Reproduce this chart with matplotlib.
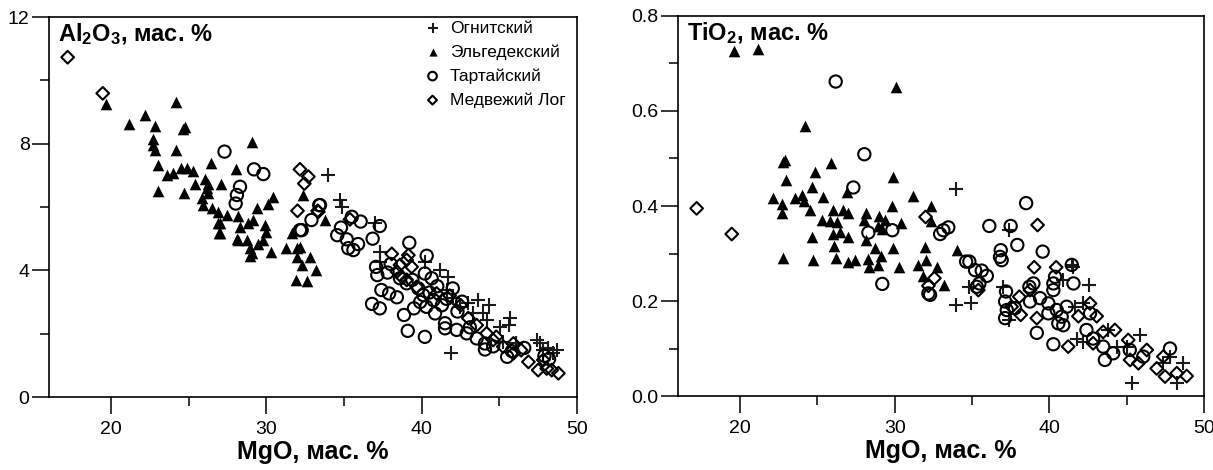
import matplotlib
matplotlib.use("Agg")
import matplotlib.pyplot as plt
from matplotlib.ticker import MultipleLocator, FormatStrFormatter

plt.rcParams['font.family'] = ['Liberation Sans', 'DejaVu Sans']
plt.rcParams['mathtext.fontset'] = 'custom'
plt.rcParams['mathtext.rm'] = 'Liberation Sans'
plt.rcParams['mathtext.bf'] = 'Liberation Sans:bold'

labels = ["Огнитский", "Эльгедекский", "Тартайский", "Медвежий Лог"]

# ---- Al2O3 vs MgO ----
ogn_mgo_al = [33.98, 34.74, 34.85, 37.0, 37.3, 37.3, 40.2, 41.2, 41.7, 41.6, 42.0, 42.46,
              43.0, 43.6, 44.3, 43.3, 43.97, 41.9, 45.7, 45.6, 45.05, 47.4, 47.6, 48.16,
              48.7, 48.47, 47.8, 46.1, 45.25, 44.2]
ogn_al = [7.01, 6.22, 6.01, 5.48, 4.59, 4.27, 4.27, 4.01, 3.8, 3.38, 3.12, 2.85,
          2.96, 3.06, 2.9, 2.64, 2.64, 1.4, 2.49, 2.27, 2.22, 1.8, 1.69, 1.54,
          1.5, 1.38, 1.48, 1.69, 1.75, 2.43]

elg_mgo_al = [19.65, 21.15, 22.2, 22.8, 24.2, 24.76, 24.6, 22.7, 22.7, 22.8, 24.15, 23.0,
              23.6, 24.0, 24.5, 24.87, 25.3, 26.43, 28.04, 29.05, 23.0, 24.7, 25.4, 26.05,
              26.26, 26.15, 26.26, 25.83, 25.94, 26.5, 27.1, 26.9, 27.44, 28.19, 26.9, 26.95,
              28.3, 28.8, 29.15, 29.37, 30.1, 30.45, 29.9, 29.95, 28.09, 28.73, 28.94, 28.94,
              29.48, 29.8, 30.3, 31.24, 31.63, 32.0, 32.0, 32.38, 32.27, 32.8, 33.17, 31.88,
              32.6, 27.0, 27.0, 28.15, 29.07, 33.8, 32.16]
elg_al = [9.25, 8.62, 8.9, 8.56, 9.32, 8.52, 8.45, 8.14, 7.95, 7.8, 7.8, 7.33,
          7.0, 7.08, 7.22, 7.22, 7.15, 7.38, 7.19, 8.06, 6.51, 6.43, 6.74, 6.9,
          6.74, 6.59, 6.43, 6.27, 6.06, 5.96, 6.74, 5.85, 5.75, 5.72, 5.5, 5.19,
          5.38, 5.5, 5.59, 5.96, 6.11, 6.32, 5.43, 5.22, 4.98, 4.96, 4.7, 4.45,
          4.83, 4.96, 4.59, 4.72, 5.19, 4.7, 4.43, 6.38, 4.17, 4.43, 4.01, 3.71,
          3.67, 5.48, 5.19, 4.96, 4.55, 5.59, 4.75]

tar_mgo_al = [27.3, 29.2, 29.8, 28.3, 28.1, 28.02, 32.16, 32.9, 33.4, 33.45, 32.27, 35.5,
              36.07, 37.3, 34.8, 34.56, 35.17, 35.27, 35.6, 35.9, 36.84, 39.2, 40.32, 37.06,
              37.14, 37.8, 37.4, 37.9, 38.4, 36.8, 37.3, 38.86, 39.5, 39.1, 40.2, 38.6,
              39.03, 39.78, 40.2, 40.64, 40.1, 40.3, 40.86, 41.3, 42.0, 41.5, 41.5, 42.25,
              42.9, 43.54, 44.07, 44.07, 45.5, 42.6, 40.75, 41.0, 40.5, 39.9, 41.6, 42.3,
              43.1, 44.6, 45.8, 46.6, 47.9, 48.2, 38.0, 39.4]
tar_al = [7.75, 7.19, 7.04, 6.64, 6.38, 6.11, 5.27, 5.59, 6.06, 6.06, 5.27, 5.69,
          5.54, 5.4, 5.35, 5.11, 4.98, 4.7, 4.64, 4.83, 5.0, 4.87, 4.46, 4.11,
          3.85, 3.93, 3.38, 3.27, 3.15, 2.94, 2.8, 2.59, 2.8, 2.09, 1.9, 3.75,
          3.59, 3.43, 3.9, 3.75, 3.22, 2.85, 2.64, 2.9, 3.43, 2.33, 2.17, 2.12,
          2.01, 1.85, 1.69, 1.5, 1.27, 3.01, 3.06, 3.5, 3.3, 3.0, 3.1, 2.7,
          2.2, 1.6, 1.45, 1.55, 1.3, 1.2, 4.2, 3.7]

med_mgo_al = [17.2, 19.46, 32.16, 32.7, 32.44, 32.0, 33.3, 33.34, 35.38, 38.07, 39.14, 39.03,
              39.35, 38.6, 38.4, 38.7, 39.03, 39.67, 40.96, 43.0, 43.54, 44.18, 44.8, 45.9,
              46.4, 46.87, 47.5, 48.05, 48.37, 48.8, 47.83, 45.9, 45.25, 44.6, 41.8, 42.5]
med_al = [10.73, 9.59, 7.19, 6.96, 6.74, 5.88, 5.88, 5.85, 5.61, 4.52, 4.48, 4.33,
          4.11, 4.17, 3.96, 3.8, 3.7, 3.48, 3.27, 2.49, 2.27, 2.01, 1.9, 1.69,
          1.48, 1.11, 0.85, 0.9, 0.85, 0.75, 1.17, 1.38, 1.59, 1.8, 3.2, 2.9]

# ---- TiO2 vs MgO ----
ogn_mgo_ti = [33.97, 34.83, 33.97, 34.92, 37.42, 36.99, 37.42, 41.51, 42.59, 42.16, 40.91, 41.67,
              41.77, 42.2, 45.86, 45.33, 48.24, 47.8, 48.67, 47.37, 45.0, 43.8, 44.35, 41.45]
ogn_ti = [0.435, 0.229, 0.192, 0.196, 0.349, 0.229, 0.160, 0.272, 0.234, 0.195, 0.244, 0.188,
          0.121, 0.114, 0.128, 0.027, 0.027, 0.083, 0.069, 0.069, 0.104, 0.139, 0.104, 0.276]

elg_mgo_ti = [19.64, 21.15, 30.07, 24.21, 22.81, 22.9, 25.89, 24.86, 22.96, 29.92, 24.68, 26.9,
              22.16, 22.7, 22.7, 23.56, 23.99, 24.16, 24.5, 25.4, 31.21, 32.35, 29.85, 25.29,
              26.04, 26.68, 26.97, 25.83, 26.26, 28.13, 28.04, 28.99, 29.38, 30.41, 28.95, 29.2,
              24.68, 26.04, 26.47, 26.97, 26.1, 28.13, 28.73, 29.12, 29.92, 22.81, 24.75, 26.19,
              27.0, 27.44, 28.26, 28.35, 28.9, 30.28, 31.53, 31.96, 32.0, 32.72, 31.86, 33.22,
              32.35, 34.0]
elg_ti = [0.727, 0.730, 0.650, 0.568, 0.493, 0.497, 0.490, 0.472, 0.455, 0.460, 0.439, 0.430,
          0.416, 0.404, 0.386, 0.416, 0.423, 0.411, 0.392, 0.418, 0.420, 0.400, 0.400, 0.371,
          0.392, 0.392, 0.385, 0.369, 0.367, 0.386, 0.371, 0.379, 0.371, 0.364, 0.357, 0.351,
          0.334, 0.341, 0.346, 0.335, 0.316, 0.328, 0.311, 0.295, 0.311, 0.290, 0.286, 0.290,
          0.283, 0.286, 0.288, 0.271, 0.276, 0.271, 0.276, 0.314, 0.286, 0.272, 0.253, 0.234,
          0.369, 0.307]

tar_mgo_ti = [26.19, 28.04, 27.33, 28.3, 29.85, 29.2, 32.94, 33.47, 32.18, 38.5, 36.12, 37.5,
              37.93, 39.57, 36.86, 36.81, 36.92, 33.15, 34.62, 34.83, 35.2, 35.63, 35.96, 35.48,
              35.31, 32.29, 37.2, 37.14, 37.25, 37.14, 37.78, 38.71, 38.97, 39.19, 40.26, 41.45,
              41.56, 40.37, 40.26, 39.4, 39.94, 40.48, 40.8, 40.58, 40.9, 41.12, 39.94, 42.63,
              42.4, 42.83, 43.59, 44.13, 43.48, 47.8, 45.2, 46.07, 40.26, 38.75]
tar_ti = [0.662, 0.509, 0.439, 0.344, 0.349, 0.236, 0.341, 0.355, 0.216, 0.406, 0.358, 0.358,
          0.318, 0.304, 0.307, 0.293, 0.286, 0.349, 0.283, 0.283, 0.265, 0.264, 0.253, 0.237,
          0.230, 0.213, 0.220, 0.199, 0.181, 0.164, 0.185, 0.230, 0.237, 0.133, 0.109, 0.276,
          0.237, 0.251, 0.237, 0.206, 0.195, 0.181, 0.167, 0.153, 0.149, 0.188, 0.174, 0.174,
          0.139, 0.121, 0.076, 0.090, 0.104, 0.100, 0.097, 0.083, 0.223, 0.199]

med_mgo_ti = [17.2, 19.47, 32.0, 32.18, 32.57, 39.24, 39.02, 40.44, 35.41, 38.06, 38.15, 39.19,
              41.22, 42.63, 43.06, 41.88, 43.48, 44.24, 42.83, 45.1, 45.22, 45.76, 46.3, 46.94,
              47.48, 48.24, 48.88, 47.37, 37.56, 38.75]
med_ti = [0.395, 0.341, 0.377, 0.232, 0.248, 0.360, 0.271, 0.271, 0.223, 0.209, 0.171, 0.164,
          0.104, 0.195, 0.168, 0.168, 0.135, 0.139, 0.111, 0.118, 0.076, 0.069, 0.097, 0.058,
          0.041, 0.048, 0.042, 0.083, 0.188, 0.223]

fig = plt.figure(figsize=(12.13, 4.70), dpi=100)
ax1 = fig.add_axes([0.0404, 0.1553, 0.4353, 0.8085])
ax2 = fig.add_axes([0.559, 0.1574, 0.4336, 0.8086])


def draw(ax, series, ylim, ymaj, ymin, yfmt, title):
    styles = [dict(marker='+', s=95, c='#1a1a1a', linewidths=1.5),
              dict(marker='^', s=70, c='black', linewidths=0),
              dict(marker='o', s=78, facecolors='none', edgecolors='black', linewidths=1.5),
              dict(marker='D', s=42, facecolors='none', edgecolors='black', linewidths=1.5)]
    for (xs, ys), st, lab in zip(series, styles, labels):
        ax.scatter(xs, ys, label=lab, **st)
    ax.set_xlim(16, 50)
    ax.set_ylim(*ylim)
    ax.xaxis.set_major_locator(MultipleLocator(10))
    ax.xaxis.set_minor_locator(MultipleLocator(5))
    ax.yaxis.set_major_locator(MultipleLocator(ymaj))
    ax.yaxis.set_minor_locator(MultipleLocator(ymin))
    ax.yaxis.set_major_formatter(FormatStrFormatter(yfmt))
    ax.tick_params(which='major', direction='out', length=12, width=1.1, labelsize=14, pad=2)
    ax.tick_params(axis='x', which='major', pad=5)
    ax.tick_params(which='minor', direction='out', length=6.5, width=1.1)
    for sp in ax.spines.values():
        sp.set_linewidth(1.2)
    ax.set_xlabel("MgO, мас. %", fontsize=18, fontweight='bold', labelpad=2)
    ax.text(0.017, 0.99, title, transform=ax.transAxes, ha='left', va='top',
            fontsize=17, fontweight='bold')


draw(ax1, [(ogn_mgo_al, ogn_al), (elg_mgo_al, elg_al), (tar_mgo_al, tar_al), (med_mgo_al, med_al)],
     (0, 12), 4, 2, '%d', r'$\mathbf{Al_2O_3}$, мас. %')
draw(ax2, [(ogn_mgo_ti, ogn_ti), (elg_mgo_ti, elg_ti), (tar_mgo_ti, tar_ti), (med_mgo_ti, med_ti)],
     (0, 0.8), 0.2, 0.1, '%.1f', r'$\mathbf{TiO_2}$, мас. %')

ax1.legend(loc='upper right', bbox_to_anchor=(0.985, 1.0), frameon=False, fontsize=12.5,
           handletextpad=0.5, labelspacing=0.49, borderaxespad=0.1, borderpad=0.1,
           handlelength=1.0, markerscale=0.7)

fig.savefig("out.png", dpi=100)
